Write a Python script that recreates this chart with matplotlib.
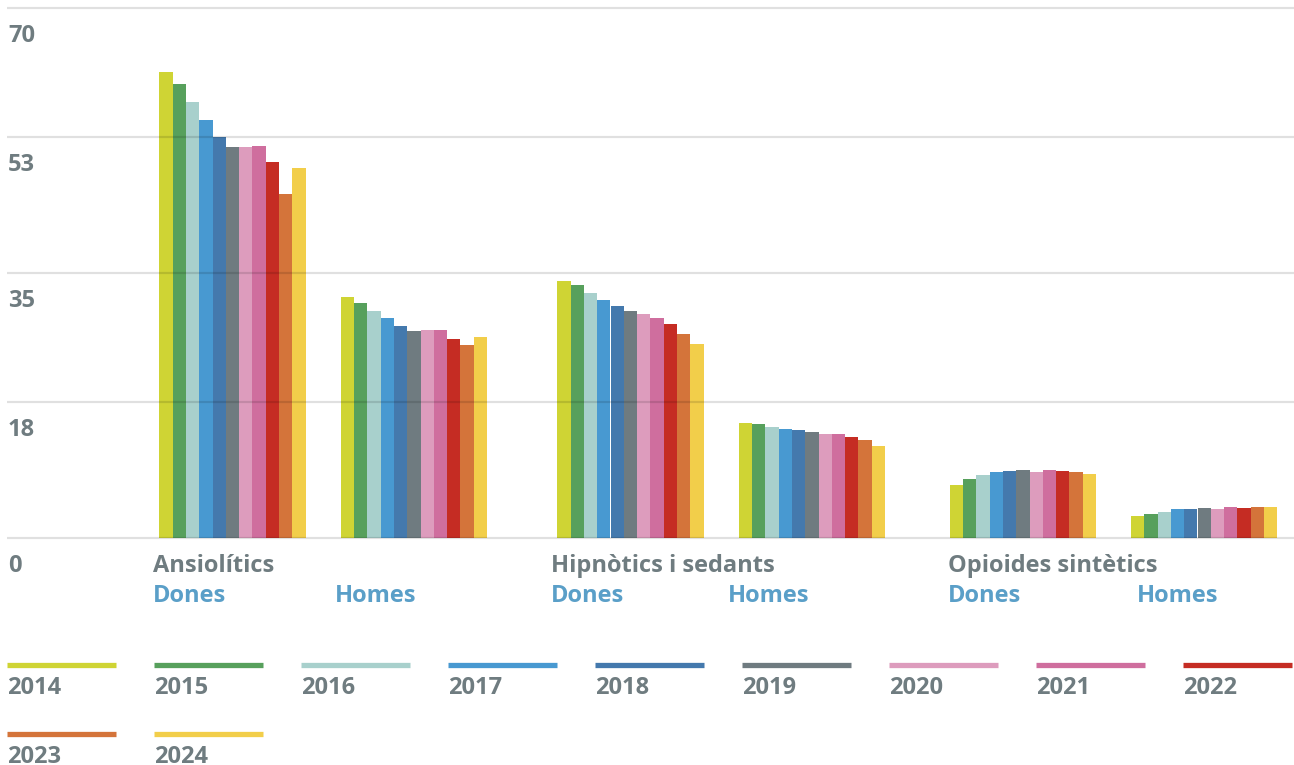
import matplotlib
matplotlib.use("Agg")
import matplotlib.pyplot as plt
from matplotlib.lines import Line2D
from matplotlib import font_manager

plt.rcParams['font.family'] = ['Open Sans', 'DejaVu Sans']

# ---- data ----
years = ['2014', '2015', '2016', '2017', '2018', '2019', '2020', '2021', '2022', '2023', '2024']
categories = ['Ansiolítics', 'Hipnòtics i sedants', 'Opioides sintètics']
sexes = ['Dones', 'Homes']
ansiolitics_dones = [61.6, 59.9, 57.6, 55.2, 52.9, 51.6, 51.7, 51.8, 49.6, 45.4, 48.9]
ansiolitics_homes = [31.8, 31.1, 30.0, 29.1, 28.0, 27.4, 27.5, 27.5, 26.3, 25.5, 26.6]
hipnotics_dones = [34.0, 33.4, 32.3, 31.5, 30.6, 30.0, 29.6, 29.0, 28.3, 26.9, 25.6]
hipnotics_homes = [15.2, 15.1, 14.7, 14.4, 14.2, 14.0, 13.8, 13.7, 13.3, 12.9, 12.2]
opioides_dones = [7.0, 7.75, 8.3, 8.7, 8.85, 9.0, 8.7, 8.95, 8.85, 8.7, 8.5]
opioides_homes = [2.85, 3.15, 3.45, 3.8, 3.85, 3.95, 3.8, 4.05, 4.0, 4.05, 4.1]
y_ticks = [0, 18, 35, 53, 70]
y_tick_labels = ['0', '18', '35', '53', '70']

# ---- styles ----
colors = ['#cfd434', '#57a05c', '#a8d0cc', '#4899d1', '#4479ad', '#6f7b80',
          '#dd9cbd', '#cf6e9e', '#c52c23', '#d4743a', '#f2ce4a']
grey = '#6f7c80'
blue = '#5a9fc8'
WEIGHT = 'bold'

W, H = 1294, 765
fig = plt.figure(figsize=(W / 100, H / 100), dpi=100)

y0_px, y70_px = 538, 8
ax = fig.add_axes([0, (H - y0_px) / H, 1, (y0_px - y70_px) / H])
ax.set_xlim(0, W)
ax.set_ylim(0, 70)
ax.axis('off')

groups = [ansiolitics_dones, ansiolitics_homes, hipnotics_dones,
          hipnotics_homes, opioides_dones, opioides_homes]
group_starts = [159.3, 340.7, 557.3, 738.7, 949.7, 1131.0]
label_x = [153, 335, 551, 728, 948, 1137]
bar_w = 13.3

for gi, (vals, gs) in enumerate(zip(groups, group_starts)):
    xs = [gs + bar_w * (i + 0.5) for i in range(len(years))]
    ax.bar(xs, vals, width=bar_w, color=colors, linewidth=0, zorder=2)

# gridlines over bars
ax.hlines(y_ticks, 7, W, color='black', alpha=0.12, lw=1.6, zorder=3, clip_on=False)

# y labels below gridlines
for t, lab in zip(y_ticks, y_tick_labels):
    ax.annotate(lab, xy=(8, t), xytext=(0, -34), textcoords='offset pixels',
                ha='left', va='baseline', fontsize=17, fontweight=WEIGHT,
                color=grey, annotation_clip=False)

# category / sex labels
for gi, lx in enumerate(label_x):
    if gi % 2 == 0:
        ax.annotate(categories[gi // 2], xy=(lx, 0), xytext=(0, -34.5),
                    textcoords='offset pixels', ha='left', va='baseline',
                    fontsize=17, fontweight=WEIGHT, color=grey,
                    annotation_clip=False)
    ax.annotate(sexes[gi % 2], xy=(lx, 0), xytext=(0, -64),
                textcoords='offset pixels', ha='left', va='baseline',
                fontsize=17, fontweight=WEIGHT, color=blue,
                annotation_clip=False)

# legend
lax = fig.add_axes([0, 0, 1, 1])
lax.set_xlim(0, W)
lax.set_ylim(H, 0)
lax.axis('off')
lax.patch.set_alpha(0)
for i, (yr, c) in enumerate(zip(years, colors)):
    r, col = divmod(i, 9)
    x0 = 7 + 147 * col
    yl = 665 + 69 * r
    lax.add_line(Line2D([x0, x0 + 109], [yl, yl], color=c, lw=3.8,
                        solid_capstyle='butt'))
    lax.text(x0 + 0.5, yl + 29, yr, ha='left', va='baseline', fontsize=17,
             fontweight=WEIGHT, color=grey)

fig.savefig('out.png', dpi=100)
